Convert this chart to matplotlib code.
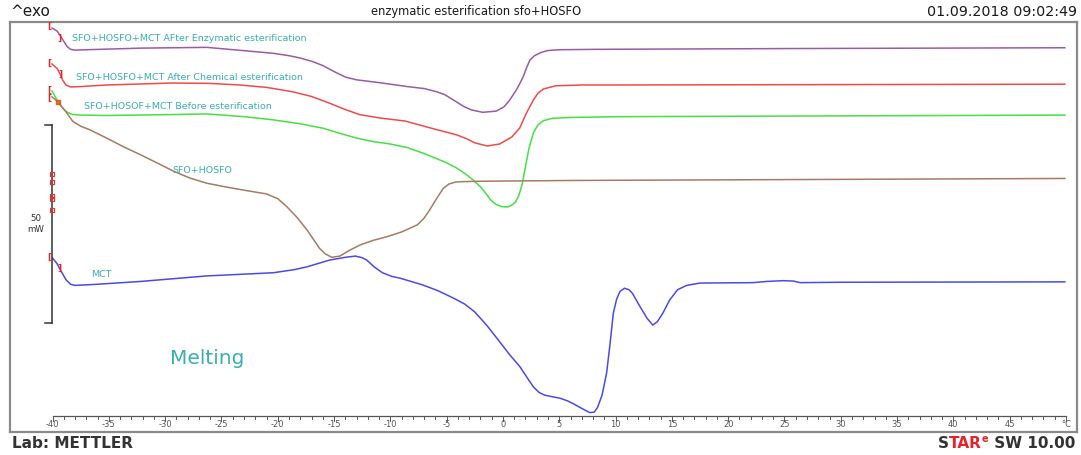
import matplotlib
matplotlib.use("Agg")
import matplotlib.pyplot as plt

# ---------------- data (temperature in degC, heat flow in mW, offset curves) ----------------
t_enz = [-40.05, -39.6, -39.3, -39.0, -38.7, -38.4, -38.0, -37.0, -32.2, -26.3, -20.4, -19.0, -18.0,
         -16.9, -16.0, -15.0, -14.0, -13.0, -11.0, -8.5, -7.0, -5.9, -5.2, -4.5, -3.5, -2.8, -1.8,
         -0.6, 0.1, 0.6, 1.2, 1.5, 1.8, 2.1, 2.4, 2.8, 3.3, 3.6, 4.0, 5.0, 8.3, 25.6, 49.9]
q_enz = [102.0, 101.2, 100.0, 98.6, 97.3, 96.6, 96.4, 96.5, 96.9, 97.1, 95.6, 95.0, 94.4,
         93.5, 92.5, 91.0, 89.6, 88.9, 88.2, 87.2, 86.7, 85.9, 85.2, 84.0, 82.2, 81.3, 80.7,
         81.0, 82.1, 83.8, 86.4, 88.0, 89.7, 92.0, 93.9, 95.0, 95.7, 96.0, 96.3, 96.5, 96.6, 96.8, 97.0]

t_chem = [-40.05, -39.6, -39.3, -39.1, -38.8, -38.4, -37.5, -35.2, -29.3, -26.0, -23.4, -21.0,
          -18.7, -17.0, -15.4, -14.0, -12.7, -11.0, -8.7, -6.5, -4.1, -3.2, -2.5, -1.4, -0.3,
          0.8, 1.5, 2.1, 2.7, 3.1, 3.6, 4.7, 7.0, 10.1, 49.9]
q_chem = [92.9, 91.8, 90.2, 88.8, 87.6, 87.1, 87.2, 87.6, 88.1, 88.0, 87.6, 87.0,
          85.9, 84.7, 83.0, 81.4, 80.1, 79.3, 78.5, 76.8, 75.0, 74.0, 73.0, 72.2, 72.7,
          74.5, 76.8, 80.6, 83.8, 85.5, 86.6, 87.4, 87.6, 87.6, 87.8]

t_before = [-40.05, -39.7, -39.2, -38.8, -38.3, -37.5, -35.2, -30.0, -26.3, -23.0, -20.4, -18.0,
            -16.0, -14.5, -13.0, -11.5, -10.0, -8.5, -7.1, -5.2, -4.2, -3.4, -2.6, -2.0, -1.5,
            -1.1, -0.6, -0.1, 0.4, 0.7, 1.1, 1.4, 1.7, 2.0, 2.3, 2.7, 3.1, 3.6, 4.4, 6.0, 10.1, 49.9]
q_before = [86.1, 84.3, 82.1, 80.9, 80.2, 80.0, 79.9, 80.1, 80.3, 79.6, 78.8, 77.8,
            76.7, 75.4, 74.2, 73.3, 72.7, 71.8, 70.4, 68.2, 66.8, 65.3, 63.5, 61.9, 60.2,
            58.6, 57.4, 56.9, 56.8, 57.1, 58.0, 59.6, 62.5, 67.0, 71.5, 75.5, 77.5, 78.6, 79.2,
            79.4, 79.6, 80.0]

t_sfo = [-40.05, -39.5, -39.1, -38.8, -38.2, -37.5, -36.7, -35.2, -33.7, -32.2, -30.7, -29.3,
         -27.8, -26.3, -24.5, -22.7, -21.0, -20.0, -19.2, -18.3, -17.4, -16.8, -16.3, -15.8,
         -15.2, -14.5, -13.6, -12.7, -11.5, -10.3, -9.0, -7.6, -7.0, -6.5, -5.9, -5.3, -4.8,
         -4.2, -3.6, -2.0, 6.3, 49.9]
q_sfo = [84.6, 83.3, 81.8, 80.8, 78.4, 77.2, 76.3, 74.2, 72.0, 70.0, 67.9, 65.9,
         64.1, 62.8, 61.8, 60.9, 60.1, 58.9, 56.9, 54.2, 51.0, 48.5, 46.4, 45.0,
         44.1, 44.4, 45.9, 47.2, 48.4, 49.3, 50.5, 52.3, 54.0, 56.1, 58.9, 61.5, 62.6,
         63.1, 63.2, 63.3, 63.5, 64.0]

t_mct = [-40.0, -39.6, -39.3, -38.8, -38.4, -38.0, -36.0, -32.2, -26.3, -20.4, -18.5, -17.4,
         -15.4, -14.0, -13.1, -12.5, -12.1, -11.4, -10.7, -9.9, -9.1, -7.1, -5.8, -4.4, -3.4,
         -2.5, -1.4, -0.3, 0.6, 1.5, 2.2, 2.7, 3.2, 3.7, 4.4, 5.1, 5.7, 6.2, 7.1, 7.7, 8.1,
         8.4, 8.8, 9.2, 9.5, 9.8, 10.1, 10.4, 10.8, 11.2, 11.5, 12.1, 12.8, 13.3, 13.7, 14.2,
         14.8, 15.5, 16.3, 17.5, 22.2, 23.4, 24.9, 25.8, 26.4, 30.0, 49.9]
q_mct = [43.9, 42.5, 40.9, 38.4, 37.3, 37.0, 37.3, 38.0, 39.4, 40.2, 41.0, 41.7,
         43.4, 44.1, 44.4, 44.0, 43.4, 41.6, 40.2, 39.3, 38.8, 37.1, 35.7, 33.8, 32.3,
         30.3, 26.8, 22.8, 19.5, 16.5, 13.5, 11.4, 10.0, 9.3, 8.9, 8.5, 7.9, 7.2, 5.8, 4.9, 5.0,
         6.2, 9.3, 14.8, 22.0, 30.0, 33.6, 35.5, 36.3, 35.9, 35.0, 32.0, 28.7, 27.0, 27.8, 30.0,
         33.3, 35.9, 37.0, 37.6, 37.7, 38.0, 38.2, 38.1, 37.7, 37.8, 37.9]

labels = ["SFO+HOSFO+MCT AFter Enzymatic esterification",
          "SFO+HOSFO+MCT After Chemical esterification",
          "SFO+HOSOF+MCT Before esterification",
          "SFO+HOSFO",
          "MCT"]
xticks = list(range(-40, 50, 5))
scale_mw = 50

# ---------------- figure ----------------
W, H = 1081, 455
fig = plt.figure(figsize=(W / 100, H / 100), dpi=100)
plt.rcParams['font.family'] = ['DejaVu Sans']

def px2fig(x, y):
    return x / W, 1 - y / H

ax = fig.add_axes([10 / W, (H - 432) / H, 1067 / W, 410 / H])
ax.set_xlim(-43.78, 50.98)
ax.set_ylim(0, 103.5)
ax.set_xticks([]); ax.set_yticks([])
for s in ax.spines.values():
    s.set_color('#8a8a8a'); s.set_linewidth(1.6)

lw = 1.1
ax.plot(t_enz, q_enz, color='#9a5aa8', lw=lw)
ax.plot(t_chem, q_chem, color='#f04a4a', lw=lw)
ax.plot(t_before, q_before, color='#44e044', lw=lw)
ax.plot(t_sfo, q_sfo, color='#a87a62', lw=lw)
ax.plot(t_mct, q_mct, color='#4a4ae6', lw=lw)

# start markers (evaluation limits)
mk = dict(color='#e02828', fontsize=6.5, fontweight='bold', ha='center', va='center')
for (t0, q0) in [(-40.25, 102.3), (-40.25, 93.0), (-40.25, 86.3), (-40.25, 84.2), (-40.25, 44.2)]:
    ax.text(t0, q0, '[', **mk)
for (t0, q0) in [(-39.35, 99.4), (-39.3, 90.4), (-39.4, 41.2)]:
    ax.text(t0, q0, ']', **mk)
ax.plot([-39.5], [83.3], marker='s', ms=3.5, color='#d06020', mfc='#e07040')

# scale bar (50 mW)
sb_x = -40.05
sb_top = (432 - 125) / 3.96
sb_bot = sb_top - scale_mw
ax.plot([sb_x, sb_x], [sb_bot, sb_top], color='#333333', lw=1.1)
ax.plot([sb_x - 0.6, sb_x], [sb_top, sb_top], color='#333333', lw=1.1)
ax.plot([sb_x - 0.6, sb_x], [sb_bot, sb_bot], color='#333333', lw=1.1)
for q in [65.1, 63.1, 59.6, 58.8, 56.1]:
    ax.plot([sb_x], [q], marker='s', ms=3.2, mfc='none', mec='#e03030', mew=0.9)
ax.text(-41.5, (sb_top + sb_bot) / 2, f"{scale_mw}\nmW", fontsize=6.2, color='#333333',
        ha='center', va='center', linespacing=1.3)

# temperature ruler
ry = (432 - 416) / 3.96
ax.plot([-40, 50], [ry, ry], color='#555555', lw=0.9)
for t in range(-40, 51):
    ln = 1.3 if t % 5 == 0 else 0.8
    ax.plot([t, t], [ry, ry - ln], color='#555555', lw=0.7)
for t in xticks:
    ax.text(t, (432 - 425) / 3.96, str(t), fontsize=6, color='#555555', ha='center', va='center')
ax.text(50, (432 - 425) / 3.96, '°C', fontsize=6, color='#555555', ha='center', va='center')

# curve labels
lc = '#3aaeb0'
fs_l = 6.8
ax.text(-38.3, (432 - 39) / 3.96, labels[0], fontsize=fs_l, color=lc, va='center')
ax.text(-37.9, (432 - 78) / 3.96, labels[1], fontsize=fs_l, color=lc, va='center')
ax.text(-37.2, (432 - 107) / 3.96, labels[2], fontsize=fs_l, color=lc, va='center')
ax.text(-29.4, (432 - 171) / 3.96, labels[3], fontsize=fs_l, color=lc, va='center')
ax.text(-36.6, (432 - 275) / 3.96, labels[4], fontsize=fs_l, color=lc, va='center')
ax.text(-29.6, (432 - 359) / 3.96, "Melting", fontsize=14.5, color='#3aaeb0', va='center')

# header / footer
hc = '#1a1a1a'
fig.text(*px2fig(10, 12), "^exo", fontsize=11, color=hc, ha='left', va='center')
fig.text(*px2fig(476, 12), "enzymatic esterification sfo+HOSFO", fontsize=8.3, color=hc,
         ha='center', va='center')
fig.text(*px2fig(1077, 12), "01.09.2018 09:02:49", fontsize=10.3, color=hc, ha='right', va='center')
fig.text(*px2fig(12, 444), "Lab: METTLER", fontsize=11, fontweight='bold', color='#333333',
         ha='left', va='center')

# "STARe SW 10.00" composed from coloured pieces, right-aligned to x=1075
r = fig.canvas.get_renderer()
pieces = [("S", '#333333', 11, 444), ("TAR", '#e8202a', 11, 444), ("e", '#e8202a', 7, 439),
          (" SW 10.00", '#333333', 11, 444)]
objs = []
for s, c, fs, yy in pieces:
    objs.append(fig.text(0, 1 - yy / H, s, fontsize=fs, fontweight='bold', color=c,
                         ha='left', va='center'))
widths = [o.get_window_extent(r).width for o in objs]
x = 1075 - sum(widths)
for o, w in zip(objs, widths):
    o.set_x(x / W)
    x += w

fig.savefig("out.png", dpi=100)
